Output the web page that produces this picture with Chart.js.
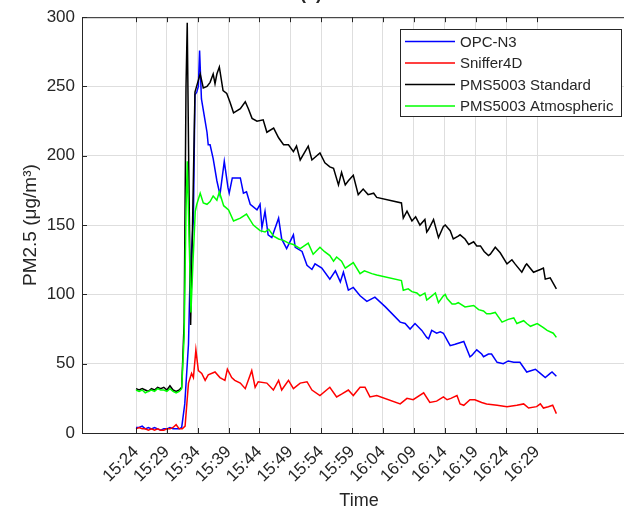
<!DOCTYPE html>
<html>
<head>
<meta charset="utf-8">
<script src="https://cdn.jsdelivr.net/npm/chart.js@4.4.1/dist/chart.umd.min.js"></script>
<style>
  html, body { margin: 0; padding: 0; background: #fff; overflow: hidden; }
  #wrap { width: 624px; height: 513px; overflow: hidden; }
</style>
</head>
<body>
<div id="wrap"><canvas id="pmChart" width="660" height="513"></canvas></div>
<script>
// time axis in minutes after 15:00
const tickMinutes = [24, 29, 34, 39, 44, 49, 54, 59, 64, 69, 74, 79, 84, 89];
const tickLabels = ["15:24", "15:29", "15:34", "15:39", "15:44", "15:49", "15:54",
                    "15:59", "16:04", "16:09", "16:14", "16:19", "16:24", "16:29"];
const seriesNames = ["OPC-N3", "Sniffer4D", "PMS5003 Standard", "PMS5003 Atmospheric"];

const opcTime = [24.0, 24.5, 25.0, 25.5, 26.0, 26.5, 27.0, 27.5, 28.0, 28.5, 29.0, 29.5, 30.0, 30.5, 31.0, 31.4,
  31.9, 32.5, 32.75, 33.3, 33.55, 33.85, 34.1, 34.3, 34.6, 35.2, 35.5, 35.7, 36.0, 36.5, 37.1, 37.6,
  38.3, 38.9, 39.1, 39.6, 40.9, 41.4, 41.9, 42.5, 43.6, 44.1, 44.4, 44.9, 45.4, 46.0, 47.1, 47.6,
  48.4, 49.5, 49.8, 50.9, 51.7, 52.5, 53.0, 54.1, 55.4, 56.3, 57.1, 57.6, 58.4, 59.2, 60.3, 61.4,
  62.7, 64.4, 66.8, 67.6, 68.4, 69.2, 70.3, 71.1, 71.4, 71.9, 72.7, 73.3, 73.8, 74.4, 74.9, 75.7,
  77.1, 78.1, 78.4, 79.2, 80.0, 80.3, 81.1, 81.6, 82.5, 83.5, 84.3, 85.2, 86.2, 87.3, 88.7, 89.5,
  90.3, 91.1, 91.4, 92.1];
const opcPm = [4, 4, 5, 3, 4, 3, 4, 3, 2, 3, 3, 4, 3, 3, 3, 4,
  21, 64, 112, 155, 244, 246, 250, 276, 241, 225, 217, 208, 208, 198, 182, 172,
  196, 177, 173, 184, 184, 173, 174, 165, 161, 165, 148, 160, 143, 141, 155, 140,
  133, 143, 134, 131, 121, 118, 122, 119, 111, 117, 109, 116, 103, 105, 99, 95,
  98, 91, 80, 79, 75, 79, 74, 69, 68, 74, 72, 73, 72, 67, 63, 64,
  66, 55, 56, 60, 57, 55, 57, 57, 51, 50, 52, 51, 51, 44, 46, 43,
  40, 43, 44, 41];

const snifferTime = [24.0, 24.5, 25.0, 25.5, 26.0, 26.5, 27.0, 27.5, 28.0, 28.5, 29.0, 29.5, 30.0, 30.5, 31.0, 31.5,
  31.95, 32.5, 33.0, 33.3, 33.7, 34.1, 34.65, 35.2, 35.7, 36.8, 37.6, 38.4, 38.8, 39.5, 40.0, 40.9,
  41.7, 42.75, 43.3, 43.8, 45.2, 46.25, 47.1, 47.6, 48.7, 49.5, 50.6, 51.7, 52.5, 53.8, 55.4, 56.5,
  57.3, 58.4, 59.2, 60.3, 61.1, 61.9, 63.0, 66.8, 67.9, 68.9, 70.6, 71.6, 72.7, 73.8, 74.4, 75.0,
  76.0, 76.5, 77.1, 78.1, 78.9, 80.0, 80.8, 82.5, 84.1, 85.7, 86.8, 87.6, 88.9, 89.5, 90.0, 90.8,
  91.5, 92.1];
const snifferPm = [3, 4, 3, 3, 2, 3, 2, 3, 2, 2, 3, 3, 4, 6, 3, 3,
  5, 36, 43, 40, 60, 45, 43, 38, 42, 44, 40, 38, 46, 40, 38, 36,
  32, 45, 33, 37, 36, 31, 38, 31, 38, 32, 36, 37, 31, 27, 33, 26,
  28, 31, 27, 33, 33, 26, 27, 21, 25, 24, 29, 22, 23, 26, 24, 25,
  27, 21, 20, 24, 24, 22, 21, 20, 19, 20, 21, 18, 19, 21, 18, 19,
  20, 14];

const stdTime = [24.0, 24.5, 25.0, 25.5, 26.0, 26.5, 27.0, 27.5, 28.0, 28.5, 29.0, 29.5, 30.0, 30.5, 31.0, 31.4,
  31.8, 32.1, 32.3, 32.55, 32.85, 33.2, 33.55, 34.0, 34.4, 34.9, 35.5, 36.0, 36.5, 36.8, 37.1, 37.5,
  38.1, 38.7, 39.2, 39.8, 40.9, 41.7, 42.2, 42.8, 43.6, 44.6, 45.2, 46.3, 47.1, 47.9, 48.7, 49.5,
  50.0, 50.6, 51.9, 52.5, 53.8, 54.6, 55.4, 56.0, 56.8, 57.3, 57.9, 58.4, 59.2, 60.0, 60.8, 61.6,
  62.5, 63.0, 67.0, 67.3, 67.9, 68.7, 69.3, 70.0, 70.8, 71.1, 71.4, 72.2, 73.0, 73.8, 74.1, 74.9,
  75.4, 76.2, 76.5, 77.3, 77.9, 78.7, 79.2, 79.8, 80.4, 81.1, 81.4, 82.2, 83.0, 84.1, 84.9, 85.4,
  86.5, 87.1, 87.3, 88.4, 89.5, 90.0, 90.3, 91.1, 91.6, 92.1];
const stdPm = [32, 31, 32, 31, 30, 32, 31, 33, 32, 33, 31, 34, 31, 30, 31, 33,
  80, 250, 296, 190, 78, 160, 246, 253, 259, 249, 250, 253, 259, 252, 259, 264,
  247, 245, 239, 231, 234, 239, 234, 227, 225, 226, 217, 220, 213, 208, 208, 203,
  207, 197, 207, 197, 202, 195, 192, 191, 179, 188, 179, 182, 186, 172, 176, 172,
  173, 170, 166, 155, 160, 153, 156, 150, 154, 145, 147, 154, 141, 149, 150, 146,
  140, 142, 143, 140, 136, 138, 135, 135, 131, 128, 129, 134, 130, 122, 125, 122,
  116, 121, 122, 116, 118, 119, 111, 112, 108, 104];

const atmTime = [24.0, 24.5, 25.0, 25.5, 26.0, 26.5, 27.0, 27.5, 28.0, 28.5, 29.0, 29.5, 30.0, 30.5, 31.0, 31.4,
  31.8, 32.1, 32.3, 32.55, 32.9, 33.2, 33.6, 33.85, 34.4, 34.9, 35.5, 36.0, 36.5, 37.1, 37.5, 38.2,
  39.0, 39.8, 40.9, 41.9, 43.0, 44.1, 44.9, 45.5, 46.3, 47.1, 47.9, 48.7, 49.5, 50.6, 51.9, 52.7,
  53.8, 54.5, 55.4, 56.0, 56.5, 57.3, 57.9, 59.2, 60.3, 61.0, 62.2, 63.0, 67.0, 67.3, 68.1, 68.7,
  69.5, 70.0, 70.8, 71.1, 71.4, 72.5, 73.0, 73.8, 74.1, 74.4, 75.2, 75.7, 76.2, 77.3, 78.7, 79.5,
  80.3, 80.8, 81.4, 82.2, 83.3, 84.3, 85.2, 85.7, 86.8, 87.3, 87.9, 89.0, 90.0, 90.6, 91.6, 92.1];
const atmPm = [31, 30, 31, 29, 30, 31, 30, 32, 31, 31, 30, 32, 30, 29, 30, 32,
  70, 160, 196, 150, 87, 120, 160, 165, 173, 166, 165, 167, 171, 168, 174, 164,
  161, 153, 155, 158, 150, 146, 145, 147, 142, 140, 139, 137, 136, 133, 137, 129,
  134, 131, 128, 124, 127, 124, 119, 123, 115, 117, 115, 114, 110, 103, 104, 102,
  101, 99, 101, 96, 97, 101, 94, 99, 100, 97, 93, 93, 94, 91, 92, 89,
  88, 86, 86, 87, 80, 82, 83, 79, 81, 79, 77, 79, 76, 74, 72, 69];

const lineColors = ["#0000ff", "#ff0000", "#000000", "#00ff00"];
const axisColor = "#262626";
const gridColor = "#dedede";
const fontFamily = "'Liberation Sans', Arial, sans-serif";

function toPoints(times, values) {
  return times.map((t, i) => ({ x: t, y: values[i] }));
}

const seriesData = [
  toPoints(opcTime, opcPm),
  toPoints(snifferTime, snifferPm),
  toPoints(stdTime, stdPm),
  toPoints(atmTime, atmPm)
];

// box, inward tick marks, partial title and the inset legend
const matlabFrame = {
  id: "matlabFrame",
  afterDraw(chart) {
    const { ctx, chartArea: a, scales } = chart;
    const x = scales.x, y = scales.y;
    ctx.save();

    ctx.strokeStyle = axisColor;
    ctx.lineWidth = 1;
    ctx.beginPath();
    ctx.moveTo(a.left, a.top + 0.5);
    ctx.lineTo(a.right, a.top + 0.5);
    tickMinutes.forEach(m => {
      const px = Math.round(x.getPixelForValue(m)) + 0.5;
      ctx.moveTo(px, a.bottom);
      ctx.lineTo(px, a.bottom - 5);
      ctx.moveTo(px, a.top);
      ctx.lineTo(px, a.top + 5);
    });
    y.ticks.forEach(t => {
      const py = Math.round(y.getPixelForValue(t.value)) + 0.5;
      ctx.moveTo(a.left, py);
      ctx.lineTo(a.left + 5, py);
    });
    ctx.stroke();

    ctx.fillStyle = axisColor;
    ctx.font = "bold 18px " + fontFamily;
    ctx.textAlign = "left";
    ctx.textBaseline = "alphabetic";
    ctx.fillText("(a) PM2.5", 300, -1);

    // legend
    const bx = 400.5, by = 29.5, bw = 221, bh = 87;
    ctx.fillStyle = "#ffffff";
    ctx.fillRect(bx, by, bw, bh);
    ctx.strokeStyle = axisColor;
    ctx.lineWidth = 1;
    ctx.strokeRect(bx, by, bw, bh);
    ctx.font = "15px " + fontFamily;
    ctx.textBaseline = "middle";
    seriesNames.forEach((name, i) => {
      const ry = 41.5 + i * 21.5;
      ctx.strokeStyle = lineColors[i];
      ctx.lineWidth = 1.4;
      ctx.beginPath();
      ctx.moveTo(405, ry);
      ctx.lineTo(455, ry);
      ctx.stroke();
      ctx.fillStyle = axisColor;
      ctx.fillText(name, 460, ry + 1);
    });
    ctx.restore();
  }
};

new Chart(document.getElementById("pmChart"), {
  type: "line",
  data: {
    datasets: seriesNames.map((name, i) => ({
      label: name,
      data: seriesData[i],
      borderColor: lineColors[i],
      borderWidth: 1.5,
      pointRadius: 0,
      tension: 0,
      fill: false,
      order: seriesNames.length - i
    }))
  },
  options: {
    responsive: false,
    animation: false,
    devicePixelRatio: 1,
    layout: { padding: { top: 15, right: 24, left: 0, bottom: 0 } },
    plugins: { legend: { display: false }, tooltip: { enabled: false } },
    scales: {
      x: {
        type: "linear",
        min: 15.25,
        max: 105,
        afterBuildTicks: scale => { scale.ticks = tickMinutes.map(v => ({ value: v })); },
        afterFit: scale => { scale.height = 80; },
        grid: { color: gridColor, drawTicks: false },
        border: { color: axisColor },
        ticks: {
          autoSkip: false,
          minRotation: 45,
          maxRotation: 45,
          padding: 9,
          color: axisColor,
          font: { family: fontFamily, size: 17 },
          callback: (v, i) => tickLabels[i]
        },
        title: {
          display: true,
          text: "Time",
          color: axisColor,
          font: { family: fontFamily, size: 18 },
          padding: { top: 0, bottom: 1 }
        }
      },
      y: {
        min: 0,
        max: 300,
        afterFit: scale => { scale.width = 82; },
        grid: { color: gridColor, drawTicks: false },
        border: { color: axisColor },
        ticks: {
          stepSize: 50,
          padding: 7,
          color: axisColor,
          font: { family: fontFamily, size: 17 }
        },
        title: {
          display: true,
          text: "PM2.5 (μg/m³)",
          color: axisColor,
          font: { family: fontFamily, size: 19 },
          padding: { top: 19, bottom: 0 }
        }
      }
    }
  },
  plugins: [matlabFrame]
});
</script>
</body>
</html>
